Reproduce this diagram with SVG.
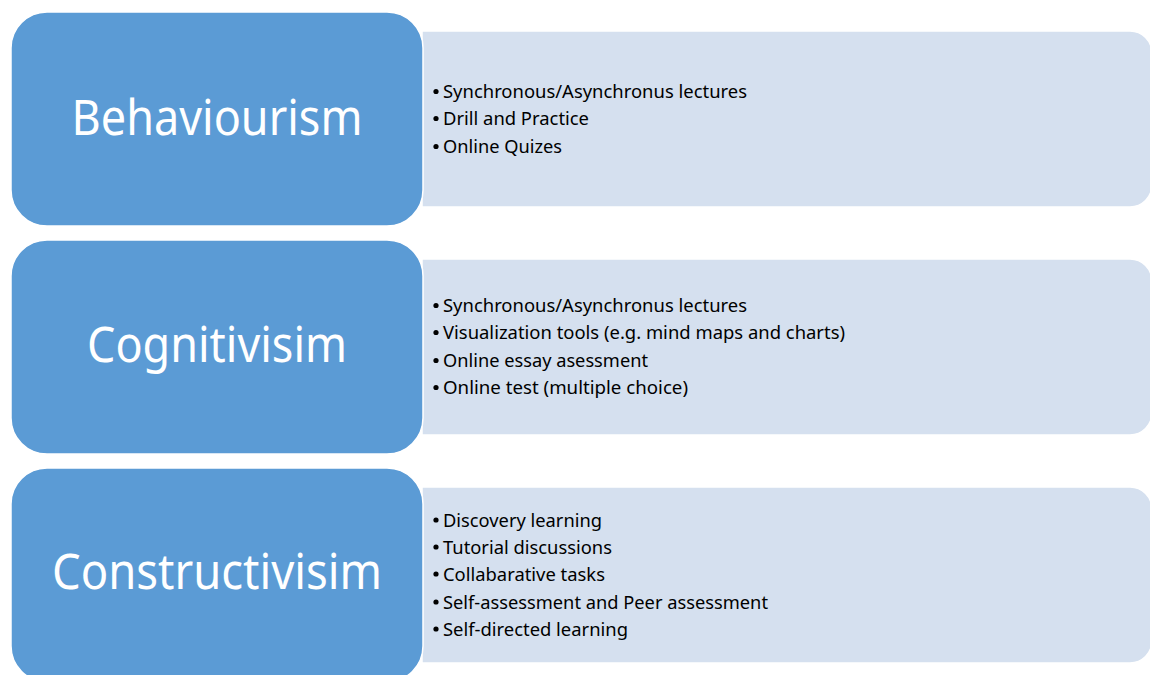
<svg xmlns="http://www.w3.org/2000/svg" width="1150" height="675" viewBox="0 0 1150 675">
<style>
.blue{fill:#5B9BD5;stroke:#ffffff;stroke-width:1.5}
.light{fill:#D5E0EF;stroke:#ffffff;stroke-width:1.5}
.title{font-family:"Noto Sans","Open Sans",sans-serif;font-size:49px;fill:#ffffff;text-anchor:middle}
.item{font-family:"Noto Sans","Open Sans",sans-serif;font-size:17.5px;fill:#000000}
.dot{fill:#000000}
</style>
<rect width="1150" height="675" fill="#ffffff"/>
<g id="node-behaviourism">
<path class="light" d="M422,31 H1130 A22,22 0 0 1 1152,53 V185 A22,22 0 0 1 1130,207 H422 Z"/>
<rect class="blue" x="11" y="12" width="412" height="214" rx="36" ry="36"/>
<text class="title" x="217" y="135" textLength="291" lengthAdjust="spacingAndGlyphs">Behaviourism</text>
<circle class="dot" cx="436" cy="91.5" r="2.6"/>
<text class="item" x="443" y="98" textLength="304" lengthAdjust="spacingAndGlyphs">Synchronous/Asynchronus lectures</text>
<circle class="dot" cx="436" cy="118.5" r="2.6"/>
<text class="item" x="443" y="125" textLength="146" lengthAdjust="spacingAndGlyphs">Drill and Practice</text>
<circle class="dot" cx="436" cy="146.5" r="2.6"/>
<text class="item" x="443" y="153" textLength="119" lengthAdjust="spacingAndGlyphs">Online Quizes</text>
</g>
<g id="node-cognitivisim">
<path class="light" d="M422,259 H1130 A22,22 0 0 1 1152,281 V413 A22,22 0 0 1 1130,435 H422 Z"/>
<rect class="blue" x="11" y="240" width="412" height="214" rx="36" ry="36"/>
<text class="title" x="217" y="362" textLength="260" lengthAdjust="spacingAndGlyphs">Cognitivisim</text>
<circle class="dot" cx="436" cy="305.5" r="2.6"/>
<text class="item" x="443" y="312" textLength="304" lengthAdjust="spacingAndGlyphs">Synchronous/Asynchronus lectures</text>
<circle class="dot" cx="436" cy="332.5" r="2.6"/>
<text class="item" x="443" y="339" textLength="402" lengthAdjust="spacingAndGlyphs">Visualization tools (e.g. mind maps and charts)</text>
<circle class="dot" cx="436" cy="360.5" r="2.6"/>
<text class="item" x="443" y="367" textLength="205" lengthAdjust="spacingAndGlyphs">Online essay asessment</text>
<circle class="dot" cx="436" cy="387.5" r="2.6"/>
<text class="item" x="443" y="394" textLength="245" lengthAdjust="spacingAndGlyphs">Online test (multiple choice)</text>
</g>
<g id="node-constructivisim">
<path class="light" d="M422,487 H1130 A22,22 0 0 1 1152,509 V641 A22,22 0 0 1 1130,663 H422 Z"/>
<rect class="blue" x="11" y="468" width="412" height="214" rx="36" ry="36"/>
<text class="title" x="217" y="589" textLength="330" lengthAdjust="spacingAndGlyphs">Constructivisim</text>
<circle class="dot" cx="436" cy="520" r="2.6"/>
<text class="item" x="443" y="526.5" textLength="159" lengthAdjust="spacingAndGlyphs">Discovery learning</text>
<circle class="dot" cx="436" cy="547" r="2.6"/>
<text class="item" x="443" y="553.5" textLength="169" lengthAdjust="spacingAndGlyphs">Tutorial discussions</text>
<circle class="dot" cx="436" cy="574" r="2.6"/>
<text class="item" x="443" y="580.5" textLength="162" lengthAdjust="spacingAndGlyphs">Collabarative tasks</text>
<circle class="dot" cx="436" cy="602" r="2.6"/>
<text class="item" x="443" y="608.5" textLength="325" lengthAdjust="spacingAndGlyphs">Self-assessment and Peer assessment</text>
<circle class="dot" cx="436" cy="629" r="2.6"/>
<text class="item" x="443" y="635.5" textLength="185" lengthAdjust="spacingAndGlyphs">Self-directed learning</text>
</g>
<g id="connectors"></g>
</svg>
